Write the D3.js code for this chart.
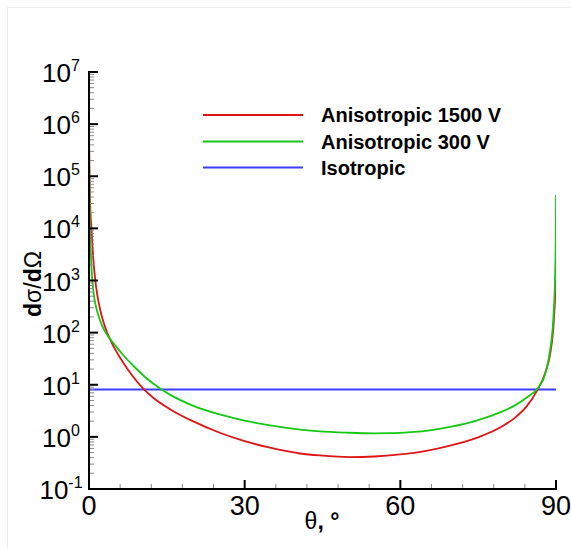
<!DOCTYPE html>
<html><head><meta charset="utf-8">
<script src="https://cdn.jsdelivr.net/npm/d3@7"></script>
<style>body{margin:0;background:#fff}svg{display:block}</style>
</head><body>
<svg id="c" width="571" height="548"></svg>
<script>
// data (theta in degrees, dσ/dΩ)
const thetaRed = [0.02,0.1,0.2,0.5,0.8,1.16,1.6,2.2,2.8,3.5,4.5,6.0,8.0,10.5,12.5,15.6,20,25.2,30,34.9,40.7,44.5,50.3,55,60,65,69.6,75,79.2,82,84.3,86.4,87.9,88.8,89.5,89.8,90];
const valRed   = [5.0e5,1e5,3.55e4,8900,2820,1120,525,263,158,100,60,33,16.6,8.3,5.5,3.4,2.0,1.2,0.83,0.62,0.48,0.44,0.41,0.42,0.46,0.54,0.68,0.98,1.51,2.29,3.8,7.9,16.6,35.5,126,400,1000];
const thetaGreen = [0.02,0.1,0.19,0.4,0.64,1.0,1.6,2.5,3.5,5,6.5,8.5,10.8,14,15.6,20,25.2,30,34.9,40.7,44.5,50,55,58,62,66,69.6,75,79.2,82,84.3,86.6,87.9,88.8,89.5,89.8,89.95,90];
const valGreen   = [3.98e5,3.98e4,1e4,2510,1000,479,251,138,91,57.5,38,23.4,14.1,8.1,6.46,3.98,2.69,2.04,1.66,1.38,1.27,1.2,1.17,1.175,1.23,1.35,1.55,2.09,2.95,3.98,5.62,8.9,15.8,41.7,200,1000,6310,43650];
const thetaIso = [0,90];
const valIso = [8.1,8.1];
const seriesNames = ["Anisotropic 1500 V","Anisotropic 300 V","Isotropic"];
const xTickLabels = ["0","30","60","90"];
const yExponents = ["-1","0","1","2","3","4","5","6","7"];

const svg = d3.select("#c");
const L=89,R=556,T=72,B=489;
const x = d3.scaleLinear().domain([0,90]).range([L,R]);
const y = d3.scaleLog().domain([0.1,1e7]).range([B,T]);

// faint frame
svg.append("line").attr("x1",7.5).attr("x2",7.5).attr("y1",7).attr("y2",548).attr("stroke","#ececec");
svg.append("line").attr("x1",7).attr("x2",571).attr("y1",7.5).attr("y2",7.5).attr("stroke","#ececec");

const colors=["#dd1515","#15c815","#3c3cff"];
const sets=[[thetaRed,valRed],[thetaGreen,valGreen],[thetaIso,valIso]];
const line=d3.line().x(d=>x(d[0])).y(d=>y(d[1])).curve(d3.curveMonotoneX);
svg.append("defs").append("clipPath").attr("id","pc").append("rect").attr("x",L).attr("y",T).attr("width",R-L).attr("height",B-T);
const g=svg.append("g").attr("clip-path","url(#pc)");
[2,0,1].forEach(i=>{
  const pts=sets[i][0].map((t,j)=>[t,sets[i][1][j]]);
  g.append("path").attr("d",line(pts)).attr("fill","none").attr("stroke",colors[i]).attr("stroke-width",1.8);
});

// minor ticks y
const minors=[];
for(let e=-1;e<7;e++){for(let k=2;k<=9;k++)minors.push(k*Math.pow(10,e));}
svg.selectAll(".ymin").data(minors).enter().append("line")
  .attr("x1",L).attr("x2",L+5).attr("y1",d=>y(d)).attr("y2",d=>y(d)).attr("stroke","#8a8a8a").attr("stroke-width",1);
const majors=yExponents.map(e=>Math.pow(10,+e));
svg.selectAll(".ymaj").data(majors).enter().append("line")
  .attr("x1",L).attr("x2",L+9).attr("y1",d=>y(d)).attr("y2",d=>y(d)).attr("stroke","#000").attr("stroke-width",2);
// x ticks
const xmin=d3.range(6,90,6).filter(d=>d%30!==0);
svg.selectAll(".xmin").data(xmin).enter().append("line")
  .attr("x1",d=>x(d)).attr("x2",d=>x(d)).attr("y1",B).attr("y2",B-5).attr("stroke","#8a8a8a").attr("stroke-width",1);
svg.selectAll(".xmaj").data(xTickLabels.map(Number)).enter().append("line")
  .attr("x1",d=>x(d)).attr("x2",d=>x(d)).attr("y1",B).attr("y2",B-9).attr("stroke","#000").attr("stroke-width",2);
// axes lines
svg.append("line").attr("x1",L).attr("x2",L).attr("y1",T-1).attr("y2",B+1).attr("stroke","#000").attr("stroke-width",2);
svg.append("line").attr("x1",L-1).attr("x2",R+1).attr("y1",B).attr("y2",B).attr("stroke","#000").attr("stroke-width",2);

const font="Liberation Sans, Arial, Helvetica, sans-serif";
// y labels
yExponents.forEach(e=>{
  const t=svg.append("text").attr("x",61).attr("y",y(Math.pow(10,+e))+10).attr("text-anchor","middle")
    .attr("font-family",font).attr("font-size",26).attr("fill","#000");
  t.append("tspan").text("10");
  t.append("tspan").attr("dy",-11).attr("font-size",16).text(e);
});
// x labels
xTickLabels.forEach(s=>{
  svg.append("text").attr("x",x(+s)).attr("y",515).attr("text-anchor","middle")
    .attr("font-family",font).attr("font-size",27).attr("fill","#000").text(s);
});
// x title
const xt=svg.append("text").attr("x",322).attr("y",529).attr("text-anchor","middle").attr("font-family",font).attr("font-size",23);
xt.append("tspan").text("θ");
xt.append("tspan").attr("font-weight","bold").text(", °");
// y title
const yt=svg.append("text").attr("transform","translate(41,284) rotate(-90)").attr("text-anchor","middle").attr("font-family",font).attr("font-size",23);
yt.append("tspan").attr("font-weight","bold").text("d");
yt.append("tspan").text("σ/");
yt.append("tspan").attr("font-weight","bold").text("d");
yt.append("tspan").text("Ω");

// legend
const ly=[115,141.5,167.5];
seriesNames.forEach((n,i)=>{
  svg.append("line").attr("x1",203).attr("x2",303).attr("y1",ly[i]).attr("y2",ly[i]).attr("stroke",colors[i]).attr("stroke-width",1.8);
  svg.append("text").attr("x",321).attr("y",ly[i]+7).attr("font-family",font).attr("font-weight","bold").attr("font-size",20).text(n);
});
</script>
</body></html>
